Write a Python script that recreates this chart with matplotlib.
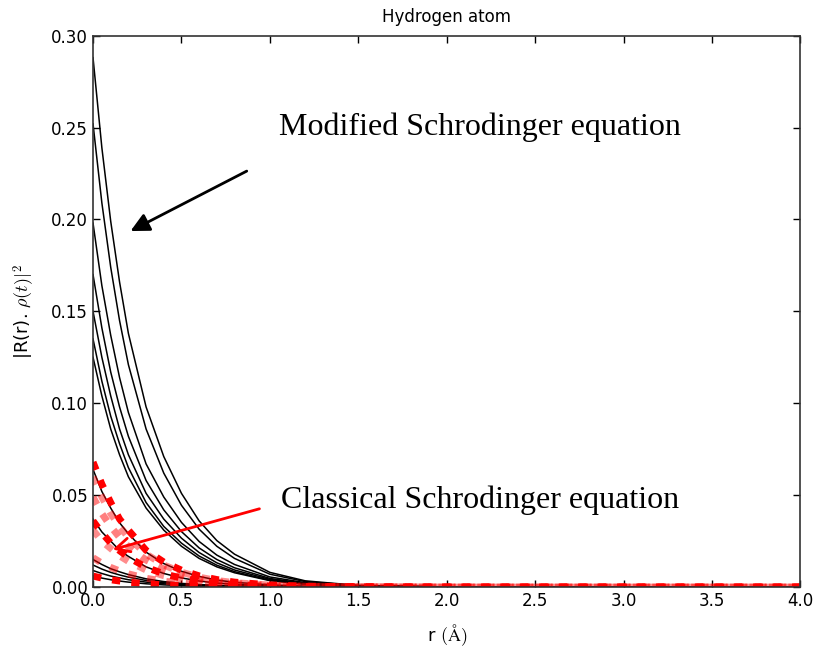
import matplotlib
matplotlib.use("Agg")
import matplotlib.pyplot as plt
import numpy as np

plt.rcParams['mathtext.fontset'] = 'cm'
plt.rcParams['xtick.direction'] = 'in'
plt.rcParams['ytick.direction'] = 'in'
plt.rcParams['xtick.top'] = True
plt.rcParams['ytick.right'] = True

# radius samples (Angstrom)
r = [0.0, 0.05, 0.1, 0.15, 0.2, 0.3, 0.4, 0.5, 0.6, 0.7, 0.8, 1.0, 1.2, 1.5, 2.0, 4.0]

# modified Schrodinger equation
mod_1 = [0.288, 0.239, 0.199, 0.166, 0.138, 0.098, 0.071, 0.051, 0.036, 0.0253, 0.0179, 0.0080, 0.0034, 0.0009, 0.0001, 0.0]
mod_2 = [0.252, 0.209, 0.174, 0.145, 0.121, 0.086, 0.062, 0.0445, 0.0315, 0.0222, 0.0156, 0.0070, 0.0030, 0.0008, 0.0001, 0.0]
mod_3 = [0.198, 0.164, 0.137, 0.114, 0.095, 0.067, 0.049, 0.0352, 0.0248, 0.0174, 0.0123, 0.0055, 0.0024, 0.0006, 0.0001, 0.0]
mod_4 = [0.170, 0.141, 0.117, 0.098, 0.082, 0.058, 0.042, 0.0302, 0.0213, 0.015, 0.0105, 0.0047, 0.0020, 0.0005, 0.0001, 0.0]
mod_5 = [0.150, 0.125, 0.104, 0.086, 0.072, 0.051, 0.037, 0.0266, 0.0188, 0.0132, 0.0093, 0.0042, 0.0018, 0.0005, 0.0, 0.0]
mod_6 = [0.135, 0.112, 0.093, 0.078, 0.065, 0.046, 0.033, 0.0239, 0.0169, 0.0119, 0.0084, 0.0037, 0.0016, 0.0004, 0.0, 0.0]
mod_7 = [0.125, 0.104, 0.086, 0.072, 0.060, 0.043, 0.031, 0.0222, 0.0156, 0.011, 0.0078, 0.0035, 0.0015, 0.0004, 0.0, 0.0]
mod_8 = [0.064, 0.052, 0.043, 0.035, 0.029, 0.019, 0.0128, 0.0086, 0.0058, 0.0038, 0.0026, 0.0012, 0.0005, 0.0002, 0.0, 0.0]
mod_9 = [0.037, 0.030, 0.025, 0.020, 0.0167, 0.011, 0.0074, 0.005, 0.0033, 0.0022, 0.0015, 0.0007, 0.0003, 0.0001, 0.0, 0.0]
mod_10 = [0.015, 0.0123, 0.010, 0.0083, 0.0068, 0.0045, 0.003, 0.002, 0.0014, 0.0009, 0.0006, 0.0003, 0.0001, 0.0, 0.0, 0.0]
mod_11 = [0.012, 0.0098, 0.008, 0.0066, 0.0054, 0.0036, 0.0024, 0.0016, 0.0011, 0.0007, 0.0005, 0.0002, 0.0001, 0.0, 0.0, 0.0]
mod_12 = [0.009, 0.0074, 0.006, 0.005, 0.004, 0.0027, 0.0018, 0.0012, 0.0008, 0.0005, 0.0004, 0.0002, 0.0001, 0.0, 0.0, 0.0]
mod_13 = [0.006, 0.0049, 0.004, 0.0033, 0.0027, 0.0018, 0.0012, 0.0008, 0.0005, 0.0004, 0.0002, 0.0001, 0.0, 0.0, 0.0, 0.0]
modified = [mod_1, mod_2, mod_3, mod_4, mod_5, mod_6, mod_7,
            mod_8, mod_9, mod_10, mod_11, mod_12, mod_13]

# classical Schrodinger equation
cl_1 = [0.068, 0.056, 0.046, 0.037, 0.031, 0.020, 0.0136, 0.0092, 0.0061, 0.0041, 0.0027, 0.0012, 0.0005, 0.0002, 0.0, 0.0]
cl_2 = [0.060, 0.049, 0.040, 0.033, 0.027, 0.018, 0.012, 0.0081, 0.0054, 0.0036, 0.0024, 0.0011, 0.0005, 0.0002, 0.0, 0.0]
cl_3 = [0.049, 0.040, 0.033, 0.027, 0.022, 0.0147, 0.0098, 0.0066, 0.0044, 0.0029, 0.002, 0.0009, 0.0004, 0.0001, 0.0, 0.0]
cl_4 = [0.036, 0.0295, 0.024, 0.0198, 0.0162, 0.0108, 0.0072, 0.0049, 0.0032, 0.0022, 0.0014, 0.0006, 0.0003, 0.0001, 0.0, 0.0]
cl_5 = [0.031, 0.025, 0.021, 0.017, 0.014, 0.0093, 0.0062, 0.0042, 0.0028, 0.0019, 0.0012, 0.0006, 0.0002, 0.0001, 0.0, 0.0]
cl_6 = [0.016, 0.013, 0.0107, 0.0088, 0.0072, 0.0048, 0.0032, 0.0022, 0.0014, 0.001, 0.0006, 0.0003, 0.0001, 0.0, 0.0, 0.0]
cl_7 = [0.006, 0.0049, 0.004, 0.0033, 0.0027, 0.0018, 0.0012, 0.0008, 0.0005, 0.0004, 0.0002, 0.0001, 0.0, 0.0, 0.0, 0.0]
classical = [cl_1, cl_2, cl_3, cl_4, cl_5, cl_6, cl_7]
classical_alpha = [1.0, 0.45, 0.5, 1.0, 0.45, 0.5, 1.0]

fig = plt.figure(figsize=(8.16, 6.48), dpi=100)
ax = fig.add_axes([0.114, 0.094, 0.867, 0.851])

for y in modified:
	ax.plot(r, y, c='k', lw=1.1)

for y, a in zip(classical, classical_alpha):
	ax.plot(r, y, '--', c='r', lw=5, alpha=a, dashes=(1.2, 1.6))

ax.set_xlim(0, 4.0)
ax.set_ylim(0, 0.30)
ax.set_xticks(np.arange(0, 4.01, 0.5))
ax.set_yticks(np.arange(0, 0.301, 0.05))
ax.tick_params(labelsize=12, length=5, width=1)
for s in ax.spines.values():
	s.set_linewidth(1.2)
	s.set_color('#333333')

ax.set_title("Hydrogen atom", fontsize=12, pad=10)
ax.set_xlabel(r"r $(\mathrm{\AA})$", fontsize=13, labelpad=9)
ax.set_ylabel(r"|R(r). $\rho(t)|^2$", fontsize=13, labelpad=10)

# annotations
ax.annotate("", xy=(0.198, 0.193), xytext=(0.883, 0.227),
	arrowprops=dict(arrowstyle='-|>', color='k', lw=2, mutation_scale=28))
ax.text(1.05, 0.250, "Modified Schrodinger equation", fontsize=23,
	family='Liberation Serif', va='center', ha='left')

ax.annotate("", xy=(0.096, 0.020), xytext=(0.956, 0.043),
	arrowprops=dict(arrowstyle='->', color='r', lw=2, mutation_scale=25))
ax.text(1.06, 0.0474, "Classical Schrodinger equation", fontsize=23,
	family='Liberation Serif', va='center', ha='left')

plt.savefig("out.png", dpi=100)
